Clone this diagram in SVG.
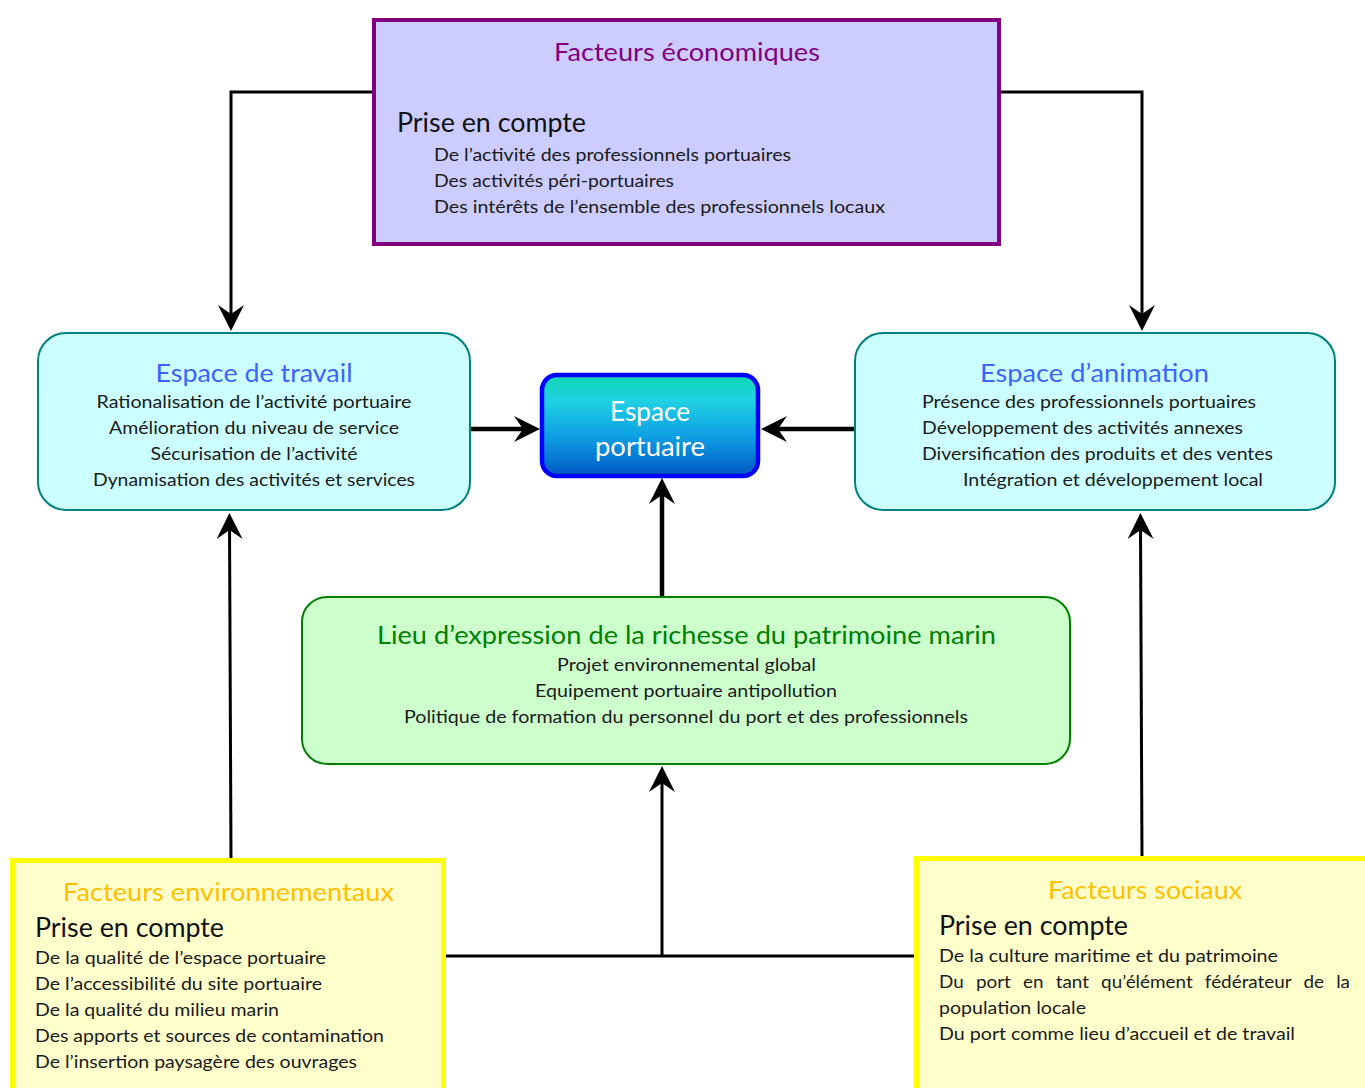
<svg xmlns="http://www.w3.org/2000/svg" width="1365" height="1088" viewBox="0 0 1365 1088">
<style>
text{font-family:Lato,"Open Sans","Liberation Sans",sans-serif;}
.b{font-size:18px;fill:#1a1a1a;}
.p{font-size:27px;fill:#111;}
.t{font-size:25px;}
.c{text-anchor:middle;}
.con{fill:none;stroke:#000;stroke-width:3;}
.thick{stroke-width:4.5;}
</style>
<defs>
<marker id="ah" markerUnits="userSpaceOnUse" viewBox="0 0 26 26" markerWidth="26" markerHeight="26" refX="14" refY="13" orient="auto">
<path d="M26,13 L0,0 L9,13 L0,26 Z" fill="#000"/>
</marker>
<linearGradient id="gp" x1="0" y1="0" x2="0" y2="1">
<stop offset="0" stop-color="#10d6b4"/>
<stop offset="0.25" stop-color="#20d2e2"/>
<stop offset="0.6" stop-color="#0ea0e4"/>
<stop offset="1" stop-color="#0058c4"/>
</linearGradient>
</defs>

<g id="connectors">
<polyline class="con" points="374,92 231,92 231,319" marker-end="url(#ah)"/>
<polyline class="con" points="999,92 1142,92 1142,319" marker-end="url(#ah)"/>
<line class="con" x1="231" y1="860" x2="229.5" y2="525" marker-end="url(#ah)"/>
<line class="con" x1="1142" y1="858" x2="1140.5" y2="525" marker-end="url(#ah)"/>
<line class="con" x1="444" y1="956" x2="916" y2="956"/>
<line class="con" x1="662" y1="956" x2="662" y2="778" marker-end="url(#ah)"/>
<line class="con thick" x1="662" y1="597" x2="662" y2="490" marker-end="url(#ah)"/>
<line class="con thick" x1="470" y1="429" x2="528" y2="429" marker-end="url(#ah)"/>
<line class="con thick" x1="855" y1="429" x2="773" y2="429" marker-end="url(#ah)"/>
</g>

<g id="facteurs-economiques">
<rect x="374" y="20" width="625" height="224" fill="#ccccff" stroke="#800080" stroke-width="4"/>
<text class="t c" x="687" y="61" fill="#800080" textLength="266" lengthAdjust="spacingAndGlyphs">Facteurs économiques</text>
<text class="p" x="397" y="132" textLength="189" lengthAdjust="spacingAndGlyphs">Prise en compte</text>
<text class="b" x="434" y="161" textLength="357" lengthAdjust="spacingAndGlyphs">De l’activité des professionnels portuaires</text>
<text class="b" x="434" y="187" textLength="240" lengthAdjust="spacingAndGlyphs">Des activités péri-portuaires</text>
<text class="b" x="434" y="213" textLength="451" lengthAdjust="spacingAndGlyphs">Des intérêts de l’ensemble des professionnels locaux</text>
</g>

<g id="espace-travail">
<rect x="38" y="333" width="432" height="177" rx="28" fill="#ccffff" stroke="#008080" stroke-width="2"/>
<text class="t c" x="254" y="382" fill="#3d63ff" textLength="197" lengthAdjust="spacingAndGlyphs">Espace de travail</text>
<text class="b c" x="254" y="408" textLength="315" lengthAdjust="spacingAndGlyphs">Rationalisation de l’activité portuaire</text>
<text class="b c" x="254" y="434" textLength="290" lengthAdjust="spacingAndGlyphs">Amélioration du niveau de service</text>
<text class="b c" x="254" y="460" textLength="207" lengthAdjust="spacingAndGlyphs">Sécurisation de l’activité</text>
<text class="b c" x="254" y="486" textLength="322" lengthAdjust="spacingAndGlyphs">Dynamisation des activités et services</text>
</g>

<g id="espace-animation">
<rect x="855" y="333" width="480" height="177" rx="28" fill="#ccffff" stroke="#008080" stroke-width="2"/>
<text class="t c" x="1094.5" y="382" fill="#3d63ff" textLength="229" lengthAdjust="spacingAndGlyphs">Espace d’animation</text>
<text class="b" x="922" y="408" textLength="334" lengthAdjust="spacingAndGlyphs">Présence des professionnels portuaires</text>
<text class="b" x="922" y="434" textLength="321" lengthAdjust="spacingAndGlyphs">Développement des activités annexes</text>
<text class="b" x="922" y="460" textLength="351" lengthAdjust="spacingAndGlyphs">Diversification des produits et des ventes</text>
<text class="b" x="963" y="486" textLength="300" lengthAdjust="spacingAndGlyphs">Intégration et développement local</text>
</g>

<g id="espace-portuaire">
<rect x="542" y="375" width="216" height="101" rx="15" fill="url(#gp)" stroke="#0000ff" stroke-width="4.5"/>
<text class="c" x="650" y="421" font-size="26" fill="#ffffff" textLength="80" lengthAdjust="spacingAndGlyphs">Espace</text>
<text class="c" x="650" y="456" font-size="26" fill="#ffffff" textLength="110" lengthAdjust="spacingAndGlyphs">portuaire</text>
</g>

<g id="lieu-expression">
<rect x="302" y="597" width="768" height="167" rx="25" fill="#ccffcc" stroke="#008000" stroke-width="2"/>
<text class="t c" x="686.5" y="644" fill="#008000" textLength="619" lengthAdjust="spacingAndGlyphs">Lieu d’expression de la richesse du patrimoine marin</text>
<text class="b c" x="686.5" y="671" textLength="259" lengthAdjust="spacingAndGlyphs">Projet environnemental global</text>
<text class="b c" x="686" y="697" textLength="302" lengthAdjust="spacingAndGlyphs">Equipement portuaire antipollution</text>
<text class="b c" x="686" y="723" textLength="564" lengthAdjust="spacingAndGlyphs">Politique de formation du personnel du port et des professionnels</text>
</g>

<g id="facteurs-environnementaux">
<rect x="12.5" y="860.5" width="431" height="240" fill="#ffffcc" stroke="#ffff00" stroke-width="5"/>
<text class="t c" x="228.5" y="901" fill="#ffc000" textLength="331" lengthAdjust="spacingAndGlyphs">Facteurs environnementaux</text>
<text class="p" x="35" y="937" textLength="189" lengthAdjust="spacingAndGlyphs">Prise en compte</text>
<text class="b" x="35" y="964" textLength="291" lengthAdjust="spacingAndGlyphs">De la qualité de l’espace portuaire</text>
<text class="b" x="35" y="990" textLength="287" lengthAdjust="spacingAndGlyphs">De l’accessibilité du site portuaire</text>
<text class="b" x="35" y="1016" textLength="244" lengthAdjust="spacingAndGlyphs">De la qualité du milieu marin</text>
<text class="b" x="35" y="1042" textLength="349" lengthAdjust="spacingAndGlyphs">Des apports et sources de contamination</text>
<text class="b" x="35" y="1068" textLength="322" lengthAdjust="spacingAndGlyphs">De l’insertion paysagère des ouvrages</text>
</g>

<g id="facteurs-sociaux">
<rect x="916.5" y="858.5" width="460" height="240" fill="#ffffcc" stroke="#ffff00" stroke-width="5"/>
<text class="t c" x="1145" y="899" fill="#ffc000" textLength="194" lengthAdjust="spacingAndGlyphs">Facteurs sociaux</text>
<text class="p" x="939" y="935" textLength="189" lengthAdjust="spacingAndGlyphs">Prise en compte</text>
<text class="b" x="939" y="962" textLength="339" lengthAdjust="spacingAndGlyphs">De la culture maritime et du patrimoine</text>
<text class="b" x="939" y="988" word-spacing="7" textLength="411" lengthAdjust="spacingAndGlyphs">Du port en tant qu’élément fédérateur de la</text>
<text class="b" x="939" y="1014" textLength="147" lengthAdjust="spacingAndGlyphs">population locale</text>
<text class="b" x="939" y="1040" textLength="356" lengthAdjust="spacingAndGlyphs">Du port comme lieu d’accueil et de travail</text>
</g>
</svg>
